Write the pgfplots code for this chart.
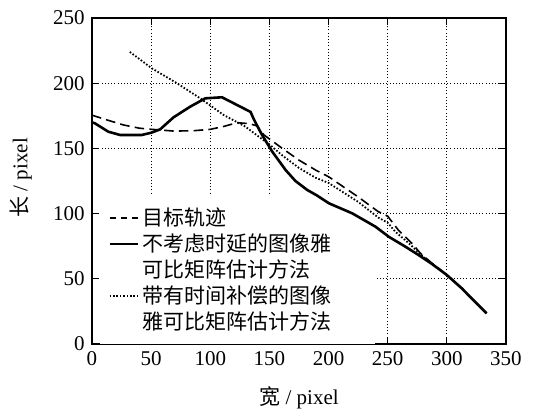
\documentclass[border=0pt]{standalone}
\usepackage{fontspec}
\setmainfont{Liberation Serif}
\newfontfamily\cjk{Noto Sans CJK SC}
\usepackage{pgfplots}
\pgfplotsset{compat=1.18}

\pgfplotsset{
  frame/.style={
    at={(0,0)}, anchor=south west,
    scale only axis,
    width=207pt, height=163pt,
    xmin=0, xmax=350, ymin=0, ymax=250,
  },
  dashedline/.style={black, line width=0.8pt, dash pattern=on 4.8pt off 2.6pt},
  solidline/.style={black, line width=1.3pt},
  dottedline/.style={black, line width=0.9pt, dash pattern=on 0.8pt off 0.9pt},
}

\begin{document}
\fontsize{10.5}{12.6}\selectfont
\begin{tikzpicture}
% frame, grid, ticks, labels and legend (drawn below the curves)
\begin{axis}[
  frame,
  xtick={0,50,...,350}, ytick={0,50,...,250},
  tick align=inside,
  major tick length=3.7pt,
  every tick/.style={black, line width=0.5pt},
  axis line style={line width=0.6pt},
  grid=major,
  major grid style={black, line width=0.5pt, dash pattern=on 0.5pt off 1.1pt},
  /pgf/number format/assume math mode=true,
  xlabel={{\cjk 宽} / pixel},
  ylabel={{\cjk 长} / pixel},
  xlabel style={at={(axis description cs:0.5,-0.166)}, anchor=center},
  ylabel style={at={(axis description cs:-0.172,0.51)}, anchor=center},
  legend cell align=left,
  legend image code/.code={\draw[#1] (0pt,0pt) -- (14pt,0pt);},
  legend style={at={(0.019,0.457)}, anchor=north west, draw=none, fill=white,
    inner xsep=4pt, inner ysep=4.7pt, row sep=0pt, font=\cjk,
    nodes={inner ysep=0pt, text height=10.5pt, text depth=2.5pt}},
]
\addlegendimage{black, line width=0.8pt, dash pattern=on 3pt off 2.5pt}
\addlegendentry{\makebox[110pt][l]{目标轨迹}}
\addlegendimage{solidline}
\addlegendentry{不考虑时延的图像雅}
\addlegendimage{empty legend}
\addlegendentry{可比矩阵估计方法}
\addlegendimage{dottedline}
\addlegendentry{带有时间补偿的图像}
\addlegendimage{empty legend}
\addlegendentry{雅可比矩阵估计方法}
\end{axis}
% curves
\begin{axis}[frame, hide axis]
% target trajectory
\addplot[dashedline] coordinates {
  (0,175.5) (12,172) (26.5,168) (40,165.5) (50.6,164.6) (69,163.3) (85,163.5)
  (100,164.6) (112,167) (122.6,169.7) (133,169) (139.6,167.2) (145.4,160.3)
  (160.9,150) (175,141) (189,133.4) (200,128.3) (225,112.8) (242,101.5)
  (250,98) (259.3,87) (270.5,77.2) (277.6,69.6) (288,61.5) (300,53)
  (312.6,42.7) (333.6,23.5)
};
% without delay
\addplot[solidline] coordinates {
  (0,170) (2.5,169.2) (13.8,162.8) (23.7,160.3) (42.1,160.3) (50,162)
  (57.6,164.6) (68.9,173.8) (83,182) (95.8,188.4) (109.9,189.2) (122.6,183.3)
  (134,178) (137,172) (141,165) (144,160) (152.4,147.5) (163.7,133.4)
  (172,125) (182,118.1) (190,114) (200.3,107.9) (220,100.2) (239.6,90)
  (250.8,82.3) (265,74.6) (276,68.3) (288,61) (300,52.9) (312.6,42.7)
  (322,34) (333.6,23.5)
};
% with time compensation
\addplot[dottedline] coordinates {
  (32,224) (50.6,211.4) (71.8,200) (91.5,188.4) (111.3,175.6) (129.7,166.7)
  (141,159) (150,153) (161,144.5) (175,135) (189,127.5) (200,123.5) (225,109)
  (242,97) (250,93) (256.5,86) (265,79.5) (270.5,75) (278,68.5) (288,61)
  (300,53) (312.6,42.7) (333.6,23.5)
};
\end{axis}
\pgfresetboundingbox
\path (-46pt,-34pt) rectangle (221pt,172pt);
\end{tikzpicture}
\end{document}
